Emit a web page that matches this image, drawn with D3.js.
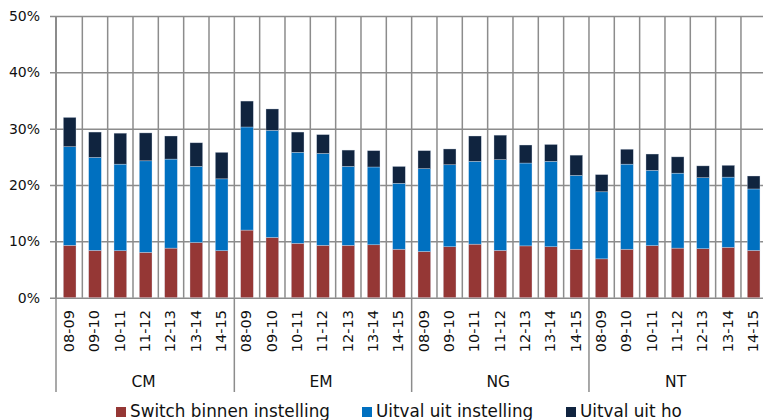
<!DOCTYPE html>
<html>
<head>
<meta charset="utf-8">
<script src="https://cdn.jsdelivr.net/npm/d3@7"></script>
<style>
  html, body { margin: 0; padding: 0; background: #fff; }
  svg { display: block; font-family: "DejaVu Sans", Verdana, sans-serif; }
</style>
</head>
<body>
<svg id="chart" width="763" height="420"></svg>
<script>
// Opleidingen en studiejaren
const groups = ["CM", "EM", "NG", "NT"];
const periods = ["08-09", "09-10", "10-11", "11-12", "12-13", "13-14", "14-15"];
const seriesNames = ["Switch binnen instelling", "Uitval uit instelling", "Uitval uit ho"];
const seriesColors = ["#953735", "#0070c0", "#10243f"];
const yTicks = [0, 10, 20, 30, 40, 50];

// Percentages per groep, in volgorde van de studiejaren
const switchBinnen = {
  CM: [9.3, 8.4, 8.35, 8.05, 8.8, 9.8, 8.35],
  EM: [12.0, 10.7, 9.65, 9.3, 9.3, 9.4, 8.6],
  NG: [8.2, 9.05, 9.5, 8.4, 9.2, 9.05, 8.6],
  NT: [6.9, 8.6, 9.25, 8.8, 8.7, 8.95, 8.4]
};
const uitvalInstelling = {
  CM: [17.5, 16.5, 15.35, 16.25, 15.8, 13.5, 12.75],
  EM: [18.3, 19.0, 16.15, 16.3, 14.0, 13.8, 11.7],
  NG: [14.7, 14.55, 14.7, 16.1, 14.7, 15.15, 13.1],
  NT: [11.9, 15.1, 13.35, 13.3, 12.6, 12.45, 10.9]
};
const uitvalHo = {
  CM: [5.2, 4.5, 5.5, 4.95, 4.1, 4.2, 4.7],
  EM: [4.6, 3.8, 3.6, 3.35, 2.9, 2.9, 3.0],
  NG: [3.2, 2.8, 4.5, 4.35, 3.2, 3.0, 3.6],
  NT: [3.05, 2.65, 2.9, 2.9, 2.1, 2.1, 2.3]
};

const rows = [];
groups.forEach(g => periods.forEach((p, i) => {
  rows.push({
    key: g + "|" + p, group: g, period: p,
    [seriesNames[0]]: switchBinnen[g][i],
    [seriesNames[1]]: uitvalInstelling[g][i],
    [seriesNames[2]]: uitvalHo[g][i]
  });
}));

const svg = d3.select("#chart");
const gridColor = "#8c8c8c";

const x = d3.scaleBand().domain(rows.map(d => d.key)).range([57, 766.3]).paddingInner(0.5).paddingOuter(0.25);
const y = d3.scaleLinear().domain([0, 50]).range([297.7, 16]);
const step = x.step();
const bandStart = k => x(k) - x.paddingOuter() * step + 0 * step; // left edge of a category slot
const slotLeft = (i) => x.range()[0] + i * step;

// Horizontal gridlines and y labels
const yAxis = svg.append("g")
  .attr("transform", `translate(${x.range()[0]},0)`)
  .call(d3.axisLeft(y).tickValues(yTicks).tickFormat(d => d + "%").tickSize(-(x.range()[1] - x.range()[0])).tickSizeOuter(0).tickPadding(17));
yAxis.select(".domain").remove();
yAxis.selectAll(".tick line")
  .attr("x1", -7)
  .attr("stroke", gridColor).attr("stroke-width", 1.5);
yAxis.selectAll(".tick text")
  .attr("font-size", 14).attr("fill", "#111")
  .attr("font-family", "DejaVu Sans, sans-serif");

// Vertical gridlines between categories
const boundaries = d3.range(rows.length + 1).map(slotLeft);
svg.append("g").selectAll("line").data(boundaries.slice(1)).join("line")
  .attr("x1", d => d).attr("x2", d => d)
  .attr("y1", y(50)).attr("y2", y(0))
  .attr("stroke", gridColor).attr("stroke-width", 1.5);

// Stacked bars
const stack = d3.stack().keys(seriesNames)(rows);
svg.append("g").selectAll("g").data(stack).join("g")
  .attr("fill", (d, i) => seriesColors[i])
  .selectAll("rect").data(d => d).join("rect")
  .attr("x", d => x(d.data.key))
  .attr("width", x.bandwidth())
  .attr("y", d => y(d[1]))
  .attr("height", d => y(d[0]) - y(d[1]))
  .attr("stroke", "rgba(220,230,242,0.55)").attr("stroke-width", 0.6);

// Y axis line
svg.append("line")
  .attr("x1", x.range()[0] - 1).attr("x2", x.range()[0] - 1)
  .attr("y1", y(50)).attr("y2", y(0) + 1)
  .attr("stroke", gridColor).attr("stroke-width", 2);

// Group dividers below the axis
const groupEdges = groups.map((g, i) => slotLeft(i * periods.length)).concat([slotLeft(rows.length)]);
svg.append("g").selectAll("line").data(groupEdges).join("line")
  .attr("x1", (d, i) => i === 0 ? d - 1 : d).attr("x2", (d, i) => i === 0 ? d - 1 : d)
  .attr("y1", y(0)).attr("y2", 392)
  .attr("stroke", gridColor).attr("stroke-width", 1.5);

// Period labels (rotated)
svg.append("g").selectAll("text").data(rows).join("text")
  .attr("transform", d => `translate(${x(d.key) + x.bandwidth() / 2 + 4.5},310) rotate(-90)`)
  .attr("text-anchor", "end")
  .attr("font-size", 14.5).attr("fill", "#111")
  .text(d => d.period);

// Group labels
svg.append("g").selectAll("text").data(groups).join("text")
  .attr("x", (g, i) => (groupEdges[i] + Math.min(groupEdges[i + 1], 766.3)) / 2 - 2)
  .attr("y", 387)
  .attr("text-anchor", "middle")
  .attr("font-size", 15.5).attr("fill", "#111")
  .text(g => g);

// Legend
const legendX = [116, 362, 566];
const legend = svg.append("g").selectAll("g").data(seriesNames).join("g")
  .attr("transform", (d, i) => `translate(${legendX[i]},0)`);
legend.append("rect")
  .attr("x", 0).attr("y", 407).attr("width", 10).attr("height", 10)
  .attr("fill", (d, i) => seriesColors[i]);
legend.append("text")
  .attr("x", 14).attr("y", 417)
  .attr("font-size", 16.8).attr("fill", "#111")
  .text(d => d);
</script>
</body>
</html>
